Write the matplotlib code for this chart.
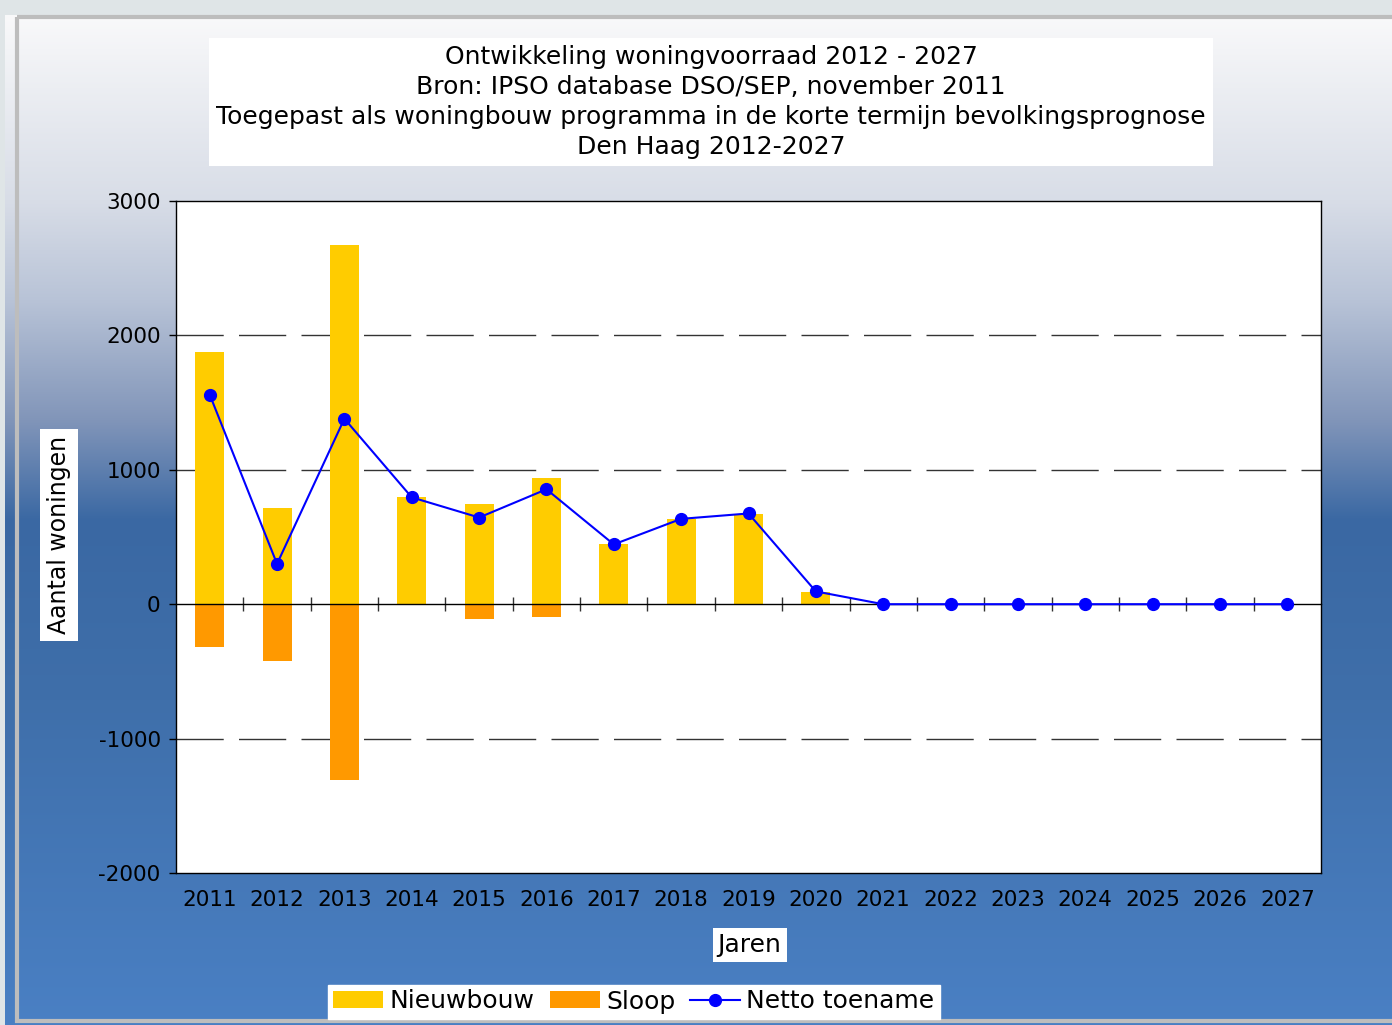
import matplotlib.pyplot as plt
import matplotlib.colors as mcolors
from matplotlib.patches import Rectangle
import numpy as np

plt.rcParams['axes.unicode_minus'] = False

# data
years = [str(y) for y in range(2011, 2028)]
nieuwbouw = [1880, 715, 2675, 795, 745, 940, 445, 635, 670, 90, 0, 0, 0, 0, 0, 0, 0]
sloop = [-320, -425, -1305, 0, -110, -95, 0, 0, 0, 0, 0, 0, 0, 0, 0, 0, 0]
netto = [1560, 300, 1380, 795, 645, 855, 445, 635, 675, 95, 0, 0, 0, 0, 0, 0, 0]

title = ("Ontwikkeling woningvoorraad 2012 - 2027\n"
         "Bron: IPSO database DSO/SEP, november 2011\n"
         "Toegepast als woningbouw programma in de korte termijn bevolkingsprognose\n"
         "Den Haag 2012-2027")

W, H = 1392, 1025
fig = plt.figure(figsize=(W / 100, H / 100), dpi=100, facecolor='#dfe5e7')

# slide background with vertical gradient
bg = fig.add_axes([0, 0, 1, 1], zorder=-10)
bg.set_xlim(0, W)
bg.set_ylim(H, 0)
bg.axis('off')
stop_y = [15, 200, 300, 420, 520, 700, 1025]
stop_c = [mcolors.to_rgb(c) for c in
          ['#f9f9fa', '#d8dde7', '#b8c3d7', '#8195b9', '#3a68a3', '#3f6faa', '#4a80c4']]
rows = np.arange(15, H)
grad = np.stack([np.interp(rows, stop_y, [c[i] for c in stop_c]) for i in range(3)], axis=-1)
bg.imshow(grad[:, None, :], extent=(5, W, H, 15), aspect='auto', interpolation='bilinear')
bg.add_patch(Rectangle((17, 17), W, 1004, fill=False, edgecolor='#bdbdbd', lw=3))

# chart
ax = fig.add_axes([176 / W, 1 - 873 / H, (1321 - 176) / W, (873 - 201) / H])
ax.set_facecolor('white')
x = np.arange(len(years))
b1 = ax.bar(x, nieuwbouw, width=0.43, color='#FFCC00', label='Nieuwbouw', zorder=2)
b2 = ax.bar(x, sloop, width=0.43, color='#FF9900', label='Sloop', zorder=2)
ln, = ax.plot(x, netto, color='#0000FF', lw=1.5, marker='o', ms=8.5,
              label='Netto toename', zorder=4)

ax.set_xlim(-0.5, len(years) - 0.5)
ax.set_ylim(-2000, 3000)
ax.set_yticks(range(-2000, 3001, 1000))
ax.set_xticks(x, years)
ax.tick_params(axis='x', length=0, pad=12, labelsize=15.5)
ax.tick_params(axis='y', length=5, width=1, pad=6, labelsize=15.5)
for gy in (-1000, 1000, 2000):
    ax.axhline(gy, color='#333333', lw=1, ls=(0, (34, 11)), zorder=1)
for s in ax.spines.values():
    s.set_color('black')
    s.set_linewidth(1)

# zero line with category separators
zero = ax.secondary_xaxis(0.4)
zero.set_xticks(np.arange(0.5, len(years) - 1, 1))
zero.tick_params(direction='inout', length=10, width=1, color='#333333', labelbottom=False)
zero.spines['bottom'].set_linewidth(1)
zero.set_zorder(3)

ax.set_ylabel('Aantal woningen', fontsize=17,
              bbox=dict(fc='white', ec='none', boxstyle='square,pad=0.3'))
ax.yaxis.label.set_va('center')
ax.yaxis.set_label_coords(-0.102, 0.503)
ax.set_xlabel('Jaren', fontsize=18,
              bbox=dict(fc='white', ec='none', boxstyle='square,pad=0.2'))
ax.xaxis.label.set_va('center')
ax.xaxis.set_label_coords(0.501, -0.107)

fig.text(711 / W, 1 - 102 / H, title, ha='center', va='center', fontsize=18,
         linespacing=1.3,
         bbox=dict(fc='white', ec='none', boxstyle='square,pad=0.3'))

fig.legend([b1, b2, ln], ['Nieuwbouw', 'Sloop', 'Netto toename'],
           loc='center', bbox_to_anchor=(634 / W, 1 - 1001.5 / H), ncol=3,
           fontsize=18, frameon=True, fancybox=False, facecolor='white',
           edgecolor='white', framealpha=1, handlelength=2.0, handleheight=0.68,
           columnspacing=0.6, handletextpad=0.25, borderpad=0.2, borderaxespad=0)

fig.savefig('out.png', dpi=100, facecolor=fig.get_facecolor())
